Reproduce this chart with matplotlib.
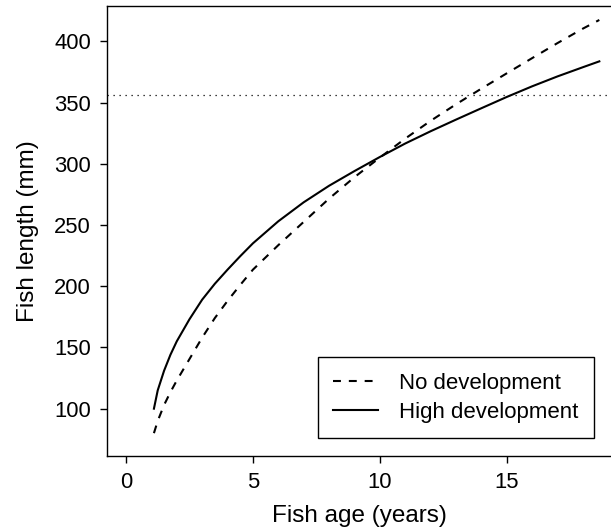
import matplotlib as mpl
import matplotlib.pyplot as plt

mpl.use('Agg')
plt.rcParams['font.family'] = ['Liberation Sans', 'DejaVu Sans']

# values
age_no = [1.1, 1.25, 1.5, 1.75, 2, 2.5, 3, 3.5, 4, 4.5, 5, 6, 7, 8, 9, 10, 11, 12, 13, 14, 15, 16, 17, 18, 18.65]
len_no = [80, 90, 103, 113.5, 123, 140.5, 158, 174, 188, 201, 213.5, 233.5, 252.5, 271.5, 289, 305,
          320.5, 335, 348.5, 361.3, 373.8, 386.2, 398.5, 410.3, 417.4]

age_high = [1.1, 1.25, 1.5, 1.75, 2, 2.5, 3, 3.5, 4, 4.5, 5, 6, 7, 8, 9, 10, 11, 12, 13, 14, 15, 16, 17, 18, 18.65]
len_high = [100, 115, 131, 144, 155, 173, 189, 202, 213.5, 224.5, 235, 253, 268.5, 282, 294, 305.5,
            316.5, 326.5, 336, 345.3, 354.5, 363.2, 371.3, 378.8, 383.6]

ref_length = 356
labels = ["No development", "High development"]
xticks = [0, 5, 10, 15]
yticks = [100, 150, 200, 250, 300, 350, 400]

fig = plt.figure(figsize=(6.11, 5.29), dpi=100)
ax = fig.add_axes([107 / 611, 1 - 455.7 / 529, 1 - 107 / 611, (455.7 - 6) / 529])

ax.axhline(ref_length, color='black', lw=0.9, ls=(0, (1, 3.8)))
ax.plot(age_no, len_no, color='black', lw=1.5, dashes=(3.8, 3.8), label=labels[0])
ax.plot(age_high, len_high, color='black', lw=1.5, label=labels[1])

ax.set_xlim(-0.749, 19.11)
ax.set_ylim(61.6, 428.8)
ax.set_xticks(xticks)
ax.set_yticks(yticks)
ax.spines['right'].set_visible(False)
for s in ['left', 'bottom', 'top']:
    ax.spines[s].set_linewidth(1.0)
ax.tick_params(length=5, width=1.0, pad=6.5, labelsize=15.8)

ax.set_xlabel("Fish age (years)", fontsize=17.5, labelpad=9)
ax.set_ylabel("Fish length (mm)", fontsize=17.5, labelpad=11)

leg = ax.legend(loc='lower right', bbox_to_anchor=(0.966, 0.039), borderaxespad=0,
                fontsize=16, fancybox=False, edgecolor='black', framealpha=1,
                handlelength=2.0, handletextpad=0.95, borderpad=0.7, labelspacing=0.35)
leg.get_frame().set_linewidth(1.0)

plt.savefig("out.png", dpi=100)
